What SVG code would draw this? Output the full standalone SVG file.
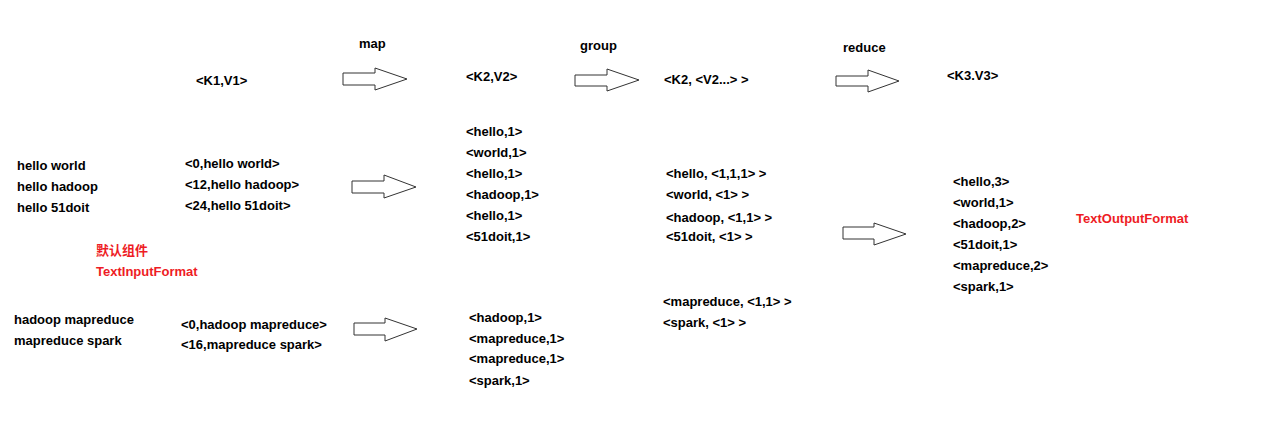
<svg xmlns="http://www.w3.org/2000/svg" width="1267" height="445" viewBox="0 0 1267 445">
<style>
text{font-family:"Liberation Sans","Noto Sans CJK SC",sans-serif;font-size:13px;font-weight:bold;fill:#000}
.red{fill:#ee1c25}
.arr{fill:#fff;stroke:#333;stroke-width:1}
</style>
<rect width="1267" height="445" fill="#fff"/>
<g id="connectors">
<polygon class="arr" points="343,73 375,73 375,68 407,79 375,90 375,85 343,85"/>
<polygon class="arr" points="575,75 607,75 607,69 639,80 607,91 607,86 575,86"/>
<polygon class="arr" points="836,76 868,76 868,70 899,81 868,92 868,86 836,86"/>
<polygon class="arr" points="352,181 384,181 384,175 416,187 384,198 384,193 352,193"/>
<polygon class="arr" points="354,323 385,323 385,318 417,329 385,341 385,335 354,335"/>
<polygon class="arr" points="843,227 874,227 874,223 906,234 874,245 874,239 843,239"/>
</g>
<g id="labels">
<text x="359" y="48">map</text>
<text x="580" y="50">group</text>
<text x="843" y="52">reduce</text>
</g>
<g id="headers">
<text x="196" y="85">&lt;K1,V1&gt;</text>
<text x="466" y="81">&lt;K2,V2&gt;</text>
<text x="664" y="84">&lt;K2, &lt;V2...&gt; &gt;</text>
<text x="947" y="80">&lt;K3.V3&gt;</text>
</g>
<g id="input1">
<text x="17" y="170">hello world</text>
<text x="17" y="191">hello hadoop</text>
<text x="17" y="212">hello 51doit</text>
</g>
<g id="input2">
<text x="14" y="324">hadoop mapreduce</text>
<text x="14" y="345">mapreduce spark</text>
</g>
<g id="inputformat">
<text class="red" x="96" y="255">默认组件</text>
<text class="red" x="96" y="276">TextInputFormat</text>
</g>
<g id="kv1a">
<text x="185" y="168">&lt;0,hello world&gt;</text>
<text x="185" y="189">&lt;12,hello hadoop&gt;</text>
<text x="185" y="210">&lt;24,hello 51doit&gt;</text>
</g>
<g id="kv1b">
<text x="181" y="329">&lt;0,hadoop mapreduce&gt;</text>
<text x="181" y="349">&lt;16,mapreduce spark&gt;</text>
</g>
<g id="kv2a">
<text x="466" y="136">&lt;hello,1&gt;</text>
<text x="466" y="157">&lt;world,1&gt;</text>
<text x="466" y="178">&lt;hello,1&gt;</text>
<text x="466" y="199">&lt;hadoop,1&gt;</text>
<text x="466" y="220">&lt;hello,1&gt;</text>
<text x="466" y="241">&lt;51doit,1&gt;</text>
</g>
<g id="kv2b">
<text x="469" y="322">&lt;hadoop,1&gt;</text>
<text x="469" y="343">&lt;mapreduce,1&gt;</text>
<text x="469" y="363">&lt;mapreduce,1&gt;</text>
<text x="469" y="385">&lt;spark,1&gt;</text>
</g>
<g id="grouped1">
<text x="666" y="178">&lt;hello, &lt;1,1,1&gt; &gt;</text>
<text x="666" y="199">&lt;world, &lt;1&gt; &gt;</text>
<text x="666" y="222">&lt;hadoop, &lt;1,1&gt; &gt;</text>
<text x="666" y="241">&lt;51doit, &lt;1&gt; &gt;</text>
</g>
<g id="grouped2">
<text x="663" y="306">&lt;mapreduce, &lt;1,1&gt; &gt;</text>
<text x="663" y="327">&lt;spark, &lt;1&gt; &gt;</text>
</g>
<g id="kv3">
<text x="953" y="186">&lt;hello,3&gt;</text>
<text x="953" y="207">&lt;world,1&gt;</text>
<text x="953" y="228">&lt;hadoop,2&gt;</text>
<text x="953" y="249">&lt;51doit,1&gt;</text>
<text x="953" y="270">&lt;mapreduce,2&gt;</text>
<text x="953" y="291">&lt;spark,1&gt;</text>
</g>
<g id="outputformat">
<text class="red" x="1076" y="223">TextOutputFormat</text>
</g>
</svg>
